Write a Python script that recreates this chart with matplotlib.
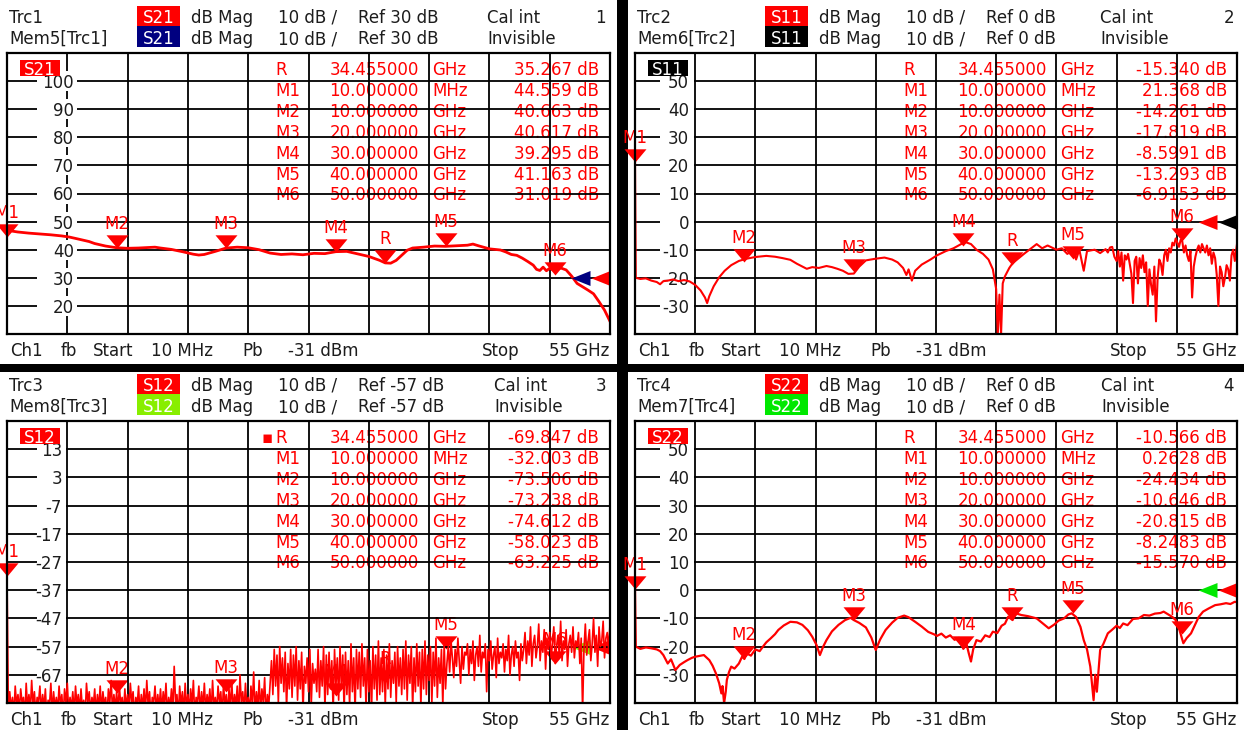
import numpy as np
import matplotlib.pyplot as plt
from matplotlib.patches import Rectangle
from matplotlib.transforms import blended_transform_factory

plt.rcParams['font.family'] = ['DejaVu Sans']

# --- sweep / marker data (GHz, dB) ---
F_START, F_STOP = 0.01, 55.0

MK_NAMES = ['R', 'M1', 'M2', 'M3', 'M4', 'M5', 'M6']
MK_GHZ = [34.455, 0.01, 10.0, 20.0, 30.0, 40.0, 50.0]

s21_mk = [35.267, 44.559, 40.663, 40.617, 39.295, 41.163, 31.019]
s11_mk = [-15.340, 21.368, -14.261, -17.819, -8.5991, -13.293, -6.9153]
s12_mk = [-69.847, -32.003, -73.506, -73.238, -74.612, -58.023, -63.225]
s22_mk = [-10.566, 0.2628, -24.434, -10.646, -20.815, -8.2483, -15.570]

s21_ghz = [0.01, 0.5, 1.0, 2.0, 3.0, 4.0, 5.0, 5.7, 6.5, 7.5, 8.0, 9.0, 10.0, 11.0, 12.0, 13.0,
           13.5, 14.0, 15.0, 16.0, 17.0, 17.5, 18.0, 19.0, 20.0, 21.0, 22.0, 23.0, 24.0, 25.0,
           26.0, 27.0, 28.0, 29.0, 30.0, 31.0, 32.0, 33.0, 34.0, 34.5, 35.0, 35.5, 36.0, 36.5,
           37.0, 38.0, 39.0, 40.0, 41.0, 42.0, 42.5, 43.0, 44.0, 45.0, 45.5, 46.0, 46.5, 47.0,
           47.5, 48.0, 48.3, 48.6, 48.9, 49.2, 49.5, 50.0, 50.5, 51.0, 51.5, 52.0, 52.5, 53.0,
           53.5, 54.0, 54.5, 55.0]
s21_db = [47.2, 46.6, 46.3, 45.9, 45.6, 45.3, 44.9, 44.5, 43.8, 42.9, 42.2, 41.3, 40.7, 40.5,
          40.6, 40.8, 40.9, 40.6, 40.1, 39.3, 38.4, 38.1, 38.3, 39.4, 40.6, 40.9, 40.7, 40.0,
          38.8, 38.3, 38.5, 38.2, 38.7, 38.6, 39.3, 39.4, 38.5, 37.6, 36.2, 35.3, 35.2, 36.2,
          38.0, 39.8, 40.6, 40.9, 41.3, 41.2, 41.4, 41.6, 42.0, 41.4, 40.3, 39.9, 39.2, 38.3,
          38.0, 37.0, 35.8, 34.5, 33.0, 32.6, 33.8, 32.5, 33.4, 32.5, 33.5, 32.8, 30.6, 28.0,
          26.8, 25.6, 24.3, 21.5, 18.5, 14.5]

s11_ghz = [0.01, 0.08, 0.5, 1.0, 1.5, 2.0, 2.3, 2.6, 3.0, 3.5, 4.0, 4.5, 5.0, 5.5, 6.0, 6.4,
           6.6, 6.8, 7.2, 7.7, 8.2, 8.8, 9.5, 10.2, 11.0, 12.0, 12.8, 13.5, 14.2, 14.8, 15.3,
           15.7, 16.2, 16.8, 17.5, 18.0, 18.5, 19.0, 19.5, 20.0, 20.5, 21.1, 22.0, 22.8, 23.5,
           24.0, 24.5, 24.8, 25.0, 25.3, 25.6, 26.2, 27.0, 27.6, 28.4, 29.1, 29.8, 30.2, 30.7,
           31.2, 31.8, 32.3, 32.7, 33.0, 33.15, 33.3, 33.45, 33.6, 33.8, 34.2, 34.5, 35.0, 35.6,
           36.2, 36.7, 37.2, 37.7, 38.5, 39.0, 39.5, 40.0, 40.3, 40.6, 41.0, 41.3, 42.0, 42.5,
           43.0, 43.2, 43.4, 43.6, 43.8, 44.0, 44.15, 44.3, 44.45, 44.6, 44.75, 44.9, 45.05,
           45.2, 45.35, 45.5, 45.65, 45.8, 45.95, 46.1, 46.25, 46.4, 46.55, 46.7, 46.85, 47.0,
           47.15, 47.3, 47.45, 47.6, 47.75, 47.9, 48.05, 48.2, 48.35, 48.5, 48.65, 48.8, 48.95,
           49.1, 49.25, 49.4, 49.55, 49.7, 49.85, 50.0, 50.15, 50.3, 50.45, 50.6, 50.75, 50.9,
           51.05, 51.2, 51.35, 51.5, 51.65, 51.8, 51.95, 52.1, 52.25, 52.4, 52.55, 52.7, 52.85,
           53.0, 53.15, 53.3, 53.45, 53.6, 53.75, 53.9, 54.05, 54.2, 54.35, 54.5, 54.65, 54.8,
           55.0]
s11_db = [21.4, -20.0, -20.4, -20.2, -21.0, -21.5, -22.3, -21.2, -21.0, -20.6, -21.2, -20.8,
          -21.3, -22.5, -24.5, -27.0, -29.0, -26.5, -23.0, -19.8, -17.5, -15.5, -14.0, -13.2,
          -12.6, -12.2, -12.5, -13.0, -13.6, -15.0, -16.0, -16.8, -16.2, -16.5, -15.8, -16.2,
          -16.8, -17.5, -18.6, -18.5, -16.0, -13.8, -13.2, -12.8, -13.5, -14.5, -16.5, -19.0,
          -17.0, -21.0, -17.5, -15.3, -13.5, -12.0, -10.5, -9.5, -8.0, -7.3, -8.0, -10.0,
          -11.5, -13.5, -17.0, -24.0, -40.0, -26.0, -40.0, -22.0, -19.5, -16.5, -14.8, -13.2,
          -11.3, -9.5, -8.0, -9.5, -8.5, -10.0, -9.5, -11.5, -10.2, -13.5, -10.0, -17.5, -10.5,
          -10.0, -11.2,
          -9.8, -11.0, -9.2, -9.0, -12.5, -14.0, -10.5, -16.0, -11.0, -21.0, -12.0, -13.5,
          -11.5, -15.0, -18.5, -29.0, -14.0, -12.5, -22.0, -13.0, -16.5, -12.0, -18.0, -14.5,
          -30.0, -17.0, -22.5, -26.0, -16.0, -35.5, -20.0, -13.5, -15.0, -19.0, -12.0, -10.0,
          -14.0, -9.5, -11.0, -7.5, -8.5, -6.0, -7.5, -9.0, -6.5, -7.0, -11.0, -8.5, -12.0,
          -14.0, -10.5, -27.0, -16.0, -12.5, -10.0, -8.5, -11.0, -8.0, -9.5, -11.0, -8.5, -12.0,
          -9.5, -15.0, -11.0, -13.0, -19.0, -30.0, -16.0, -18.0, -23.0, -20.0, -15.5, -17.0,
          -21.0, -12.0, -10.0, -14.0, -8.0]

# S12 is pure noise: one value per sweep point, points evenly spaced over the sweep
s12_db = [-32.0,
          # 0.1 .. 24 GHz: grass on the floor
          -80, -73, -79, -75, -81, -71, -78, -74, -80, -72, -77, -75, -82, -70, -79, -74,
          -80, -69, -78, -73, -81, -75, -77, -71, -80, -74, -79, -72, -82, -76, -78, -70,
          -81, -73, -79, -75, -80, -71, -78, -74, -82, -72, -77, -70, -80, -75, -79, -73,
          -81, -71, -78, -74, -80, -72, -79, -76, -82, -70, -77, -73, -80, -75, -78, -72,
          -81, -74, -79, -71, -80, -73, -78, -75, -82, -72, -77, -69, -80, -74, -79, -73,
          -80, -71, -78, -75, -81, -72, -79, -74, -80, -70, -77, -73, -82, -75, -78, -71,
          -81, -74, -79, -72, -80, -69, -78, -73, -82, -75, -77, -71, -80, -74, -79, -72,
          -80, -73, -78, -70, -81, -75, -79, -72, -80, -64, -77, -74, -82, -71, -78, -73,
          -81, -70, -79, -74, -80, -72, -78, -69, -82, -75, -77, -71, -80, -73, -79, -70,
          -80, -74, -78, -72, -81, -69, -79, -75, -80, -71, -77, -73, -82, -70, -78, -74,
          -81, -72, -79, -69, -80, -74, -78, -71, -82, -67, -77, -73, -80, -70, -79, -75,
          -80, -71, -78, -66, -81, -73, -79, -69, -80, -72, -77, -68, -82, -74, -78, -70,
          # 24 .. 40 GHz
          -62, -74, -58, -71, -60, -77, -57, -70, -61, -73, -59, -79, -63, -72, -58, -75,
          -60, -71, -57, -76, -62, -72, -59, -80, -64, -70, -61, -73, -58, -78, -63, -70,
          -65, -73, -58, -75, -62, -71, -57, -79, -60, -74, -59, -72, -62, -80, -58, -71,
          -61, -76, -57, -72, -60, -80, -59, -74, -62, -78, -56, -73, -61, -80, -58, -72,
          -59, -75, -56, -71, -61, -79, -58, -73, -62, -80, -57, -72, -60, -76, -55, -74,
          -61, -73, -58, -78, -60, -72, -56, -75, -62, -70, -59, -77, -57, -71, -61, -74,
          -58, -72, -55, -76, -60, -70, -57, -79, -61, -73, -56, -71, -59, -78, -58, -72,
          -55, -74, -60, -69, -57, -77, -59, -71, -54, -75, -61, -70, -58, -78, -56, -72,
          # 40 .. 47 GHz
          -63, -57, -66, -55, -61, -68, -58, -64, -54, -62, -70, -57, -65, -59, -60, -56,
          -67, -58, -63, -55, -69, -60, -57, -64, -53, -66, -59, -61, -56, -73, -58, -62,
          -55, -65, -60, -57, -68, -54, -63, -59, -61, -56, -66, -58, -62, -53, -67, -60,
          -57, -64, -55, -61, -59, -69, -56, -62,
          # 47 .. 55 GHz
          -58, -52, -63, -55, -60, -50, -64, -56, -53, -61, -57, -49, -62, -55, -59, -51,
          -65, -54, -58, -52, -61, -56, -50, -63, -57, -53, -60, -48, -62, -55, -58, -51,
          -64, -56, -53, -59, -50, -61, -55, -57, -52, -63, -54, -80, -58, -49, -60, -55,
          -51, -62, -56, -47, -59, -53, -64, -50, -57, -55, -48, -61, -54, -52, -58, -49]
s12_ghz = np.linspace(F_START, F_STOP, len(s12_db))

s22_ghz = [0.01, 0.08, 0.5, 1.0, 1.5, 2.0, 2.3, 2.6, 3.0, 3.3, 3.7, 4.1, 4.5, 4.8, 5.2, 5.5, 6.0,
           6.3, 6.8, 7.1, 7.4, 7.7, 7.9, 8.0, 8.15, 8.3, 8.4, 8.6, 8.8, 9.1, 9.5, 9.8, 10.0, 10.2,
           10.6, 11.0, 11.4, 11.7, 12.0, 12.4, 12.8, 13.1, 13.6, 14.2, 14.8, 15.3, 15.8, 16.2,
           16.6, 16.9, 17.2, 17.5, 18.0, 18.6, 19.2, 19.7, 20.0, 20.5, 21.1, 21.6, 22.0, 22.4,
           22.9, 23.5, 24.0, 24.6, 25.0, 25.6, 26.2, 26.8, 27.3, 27.6, 28.0, 28.4, 28.8, 29.2,
           29.6, 30.0, 30.3, 30.5, 30.7, 30.9, 31.2, 31.6, 32.0, 32.4, 32.7, 33.1, 33.5, 33.8,
           34.1, 34.5, 34.8, 35.3, 35.9, 36.3, 36.7, 37.2, 37.8, 38.3, 38.7, 39.2, 39.6, 39.9,
           40.3, 40.7, 41.0, 41.3, 41.6, 41.75, 41.9, 42.05, 42.2, 42.5, 42.8, 43.2, 43.6, 44.0,
           44.3, 44.6, 45.0, 45.5, 46.0, 46.5, 47.0, 47.5, 48.0, 48.3, 48.8, 49.1, 49.4, 49.7,
           50.1, 50.4, 50.8, 51.2, 51.5, 51.9, 52.4, 53.0, 53.5, 54.0, 54.4, 54.8, 55.0]
s22_db = [0.26, -20.0, -20.8, -20.3, -20.6, -21.0, -21.6, -23.0, -26.0, -24.5, -28.3, -26.5,
          -25.5, -24.8, -24.0, -23.6, -23.2, -23.0, -24.8, -26.8, -29.5, -33.0, -36.6, -34.0,
          -40.0, -36.0, -31.8, -29.0, -27.1, -27.8, -26.0, -23.5, -24.4, -22.4, -23.2, -21.0,
          -21.6, -20.0, -18.5, -17.1, -15.6, -14.1, -12.5, -11.2, -11.4, -12.3, -14.2, -16.5,
          -19.5, -23.0, -20.0, -17.7, -14.6, -12.3, -10.6, -9.8, -10.6, -11.6, -13.2, -16.8,
          -21.2, -17.5, -14.1, -11.5, -9.8, -9.0, -9.6, -11.2, -12.9, -14.8, -15.6, -16.2,
          -15.4, -16.8, -16.0, -17.6, -16.9, -20.8, -19.2, -22.4, -25.3, -21.0, -17.7, -18.2,
          -16.0, -16.6, -14.7, -15.2, -12.6, -11.9, -9.4, -10.6, -8.2, -8.8, -9.2, -9.6, -10.0,
          -11.6, -13.5, -12.2, -10.8, -10.0, -8.6, -8.2, -9.5, -13.0, -17.7, -21.0, -27.1,
          -33.0, -39.0, -30.0, -36.0, -21.2, -19.0, -15.3, -14.0, -12.6, -13.4, -11.8, -12.4,
          -10.2, -10.0, -8.8, -9.0, -8.3, -8.1, -7.6, -8.8, -9.5, -10.6, -13.5, -18.8, -17.0,
          -15.3, -12.0, -9.5, -7.6, -6.5, -5.3, -5.0, -4.6, -4.9, -4.1, -4.3]

# --- screen layout (pixels) ---
W, H = 1244, 730
FS = 12
RED = '#ff0000'
INK = '#1c1c1c'
TRI_DOWN = [(-1, 1.2), (1, 1.2), (0, 0)]     # tip sits on the point
TRI_LEFT = [(0, 0.4), (-1.0, 0), (0, -0.4)]  # base sits on the point

fig = plt.figure(figsize=(W / 100, H / 100), dpi=100)
fig.patch.set_facecolor('white')


def fx(x):
    return x / W


def fy(y):
    return 1 - y / H


def frect(x0, y0, x1, y1, color, z=-1):
    fig.patches.append(Rectangle((fx(x0), fy(y1)), (x1 - x0) / W, (y1 - y0) / H,
                                 transform=fig.transFigure, facecolor=color,
                                 edgecolor='none', zorder=z))


def ftext(x, y, s, ha='left', color=INK):
    fig.text(fx(x), fy(y), s, ha=ha, va='center_baseline', fontsize=FS, color=color)


def fmt_db(v):
    return (f'{v:.3f}' if abs(v) >= 10 else f'{v:.4f}') + ' dB'


# black separators between the four diagram areas
frect(617, 0, 628, H, 'black')
frect(0, 364, W, 372, 'black')


def draw_panel(p):
    x0, y0, x1, y1 = p['px']
    wpx, hpx = x1 - x0, y1 - y0
    ylo = p['ylo']
    ax = fig.add_axes([fx(x0), fy(y1), wpx / W, hpx / H])
    ax.plot(p['f'], p['v'], color=RED, lw=p['lw'], zorder=3)
    bt = blended_transform_factory(ax.transAxes, ax.transData)

    # markers with labels
    mz = 2.8 if not p['under'] else 2.0
    ax.plot(MK_GHZ, p['mk'], ls='none', marker=TRI_DOWN, ms=19, mfc=RED, mec='none',
            zorder=mz, clip_on=False)
    for name, fg, val in zip(MK_NAMES, MK_GHZ, p['mk']):
        ax.annotate(name, (fg, val), xytext=(0, 26), textcoords='offset pixels',
                    ha='center', va='center_baseline', fontsize=FS, color=RED,
                    annotation_clip=False, zorder=mz)

    # reference level triangles at right edge
    tz = 3.5 if not p['under'] else 2.0
    for col, off in p['tri']:
        ax.plot([1 - off / wpx], [p['ref']], transform=bt, ls='none', marker=TRI_LEFT,
                ms=27, mfc=col, mec='none', clip_on=False, zorder=tz)

    ax.set_xlim(F_START, F_STOP)
    ax.set_ylim(ylo, ylo + 100)
    ax.set_xticks(np.linspace(F_START, F_STOP, 11))
    ax.set_yticks(np.arange(ylo, ylo + 101, 10))
    ax.tick_params(length=0, labelbottom=False, labelleft=False)
    ax.grid(True, color='black', lw=1.3)
    ax.set_axisbelow(False)
    for s in ax.spines.values():
        s.set_linewidth(1.6)
        s.set_color('black')
        s.set_zorder(5)

    # scale labels inside the diagram
    bl, br, tr = p['lab']
    dpx = 100 / hpx
    for k in range(1, 10):
        yv = ylo + 10 * k
        ax.add_patch(Rectangle((bl / wpx, yv - 10 * dpx), (br - bl) / wpx, 20 * dpx,
                               transform=bt, facecolor='white', edgecolor='none', zorder=2.6))
        ax.text(tr / wpx, yv, str(yv), transform=bt, ha='right', va='center_baseline',
                fontsize=FS, color=INK, zorder=2.7)

    # trace name box
    ax.add_patch(Rectangle((13 / wpx, 1 - 23 / hpx), 40 / wpx, 16 / hpx,
                           transform=ax.transAxes, facecolor=p['pcol'], edgecolor='none',
                           zorder=6))
    ax.text(33 / wpx, 1 - 15 / hpx, p['par'], transform=ax.transAxes, ha='center',
            va='center_baseline', fontsize=FS, color='white', zorder=7)

    # marker table
    for i, (name, fg, val) in enumerate(zip(MK_NAMES, MK_GHZ, p['mk'])):
        yy = 1 - (15 + 20.9 * i) / hpx
        num, unit = (f'{fg * 1000:.6f}', 'MHz') if fg < 1 else (f'{fg:.6f}', 'GHz')
        kw = dict(transform=ax.transAxes, va='center_baseline', fontsize=FS, color=RED,
                  zorder=1)
        ax.text(268 / wpx, yy, name, ha='left', **kw)
        ax.text(367 / wpx, yy, num, ha='center', **kw)
        ax.text(425 / wpx, yy, unit, ha='left', **kw)
        ax.text(592 / wpx, yy, fmt_db(val), ha='right', **kw)
        if i == 0 and p['active']:
            ax.text(266 / wpx, yy, '\u25aa', ha='right', **kw)

    # header lines
    bx = p['base']
    r1, r2 = p['rows']
    ftext(bx + 9, r1, p['trc'])
    ftext(bx + 9, r2, p['mem'])
    frect(bx + 137, r1 - 10, bx + 180, r1 + 10, RED, z=1)
    frect(bx + 137, r2 - 11, bx + 180, r2 + 10, p['mcol'], z=1)
    for r in (r1, r2):
        ftext(bx + 158.5, r, p['par'], ha='center', color='white')
        ftext(bx + 191, r, 'dB Mag')
        ftext(bx + 278, r, '10 dB /')
        ftext(bx + 358, r, p['reftxt'])
    ftext(p['calx'], r1, 'Cal int')
    ftext(p['calx'], r2, 'Invisible')
    ftext(bx + 606, r1, p['num'], ha='right')

    # footer line
    fr = y1 + 15
    for dx, s in [(3, 'Ch1'), (54, 'fb'), (86, 'Start'), (144, '10 MHz'), (235, 'Pb'),
                  (281, '-31 dBm'), (475, 'Stop')]:
        ftext(x0 + dx, fr, s)
    ftext(x1 - 1, fr, '55 GHz', ha='right')


panels = [
    dict(px=(7, 53, 610, 334), ylo=10, f=s21_ghz, v=s21_db, mk=s21_mk, lw=2.0,
         par='S21', pcol=RED, mcol='#000080', trc='Trc1', mem='Mem5[Trc1]',
         reftxt='Ref 30 dB', ref=30, num='1', base=0, calx=487, rows=(16, 37),
         tri=[('#000080', 20), (RED, 0)], lab=(30, 70, 67), under=False, active=False),
    dict(px=(635, 53, 1237, 334), ylo=-40, f=s11_ghz, v=s11_db, mk=s11_mk, lw=1.5,
         par='S11', pcol='black', mcol='black', trc='Trc2', mem='Mem6[Trc2]',
         reftxt='Ref 0 dB', ref=0, num='2', base=628, calx=1100, rows=(16, 37),
         tri=[(RED, 20), ('black', 0)], lab=(25, 59, 54), under=False, active=False),
    dict(px=(7, 421, 610, 703), ylo=-77, f=s12_ghz, v=s12_db, mk=s12_mk, lw=1.2,
         par='S12', pcol=RED, mcol='#88ee00', trc='Trc3', mem='Mem8[Trc3]',
         reftxt='Ref -57 dB', ref=-57, num='3', base=0, calx=494, rows=(384, 405),
         tri=[('#88ee00', 20), (RED, 0)], lab=(30, 59, 55), under=True, active=True),
    dict(px=(635, 421, 1237, 703), ylo=-40, f=s22_ghz, v=s22_db, mk=s22_mk, lw=1.6,
         par='S22', pcol=RED, mcol='#00e800', trc='Trc4', mem='Mem7[Trc4]',
         reftxt='Ref 0 dB', ref=0, num='4', base=628, calx=1101, rows=(384, 405),
         tri=[('#00e800', 20), (RED, 0)], lab=(25, 59, 54), under=False, active=False),
]

for p in panels:
    draw_panel(p)

fig.savefig('out.png', dpi=100, facecolor='white')
